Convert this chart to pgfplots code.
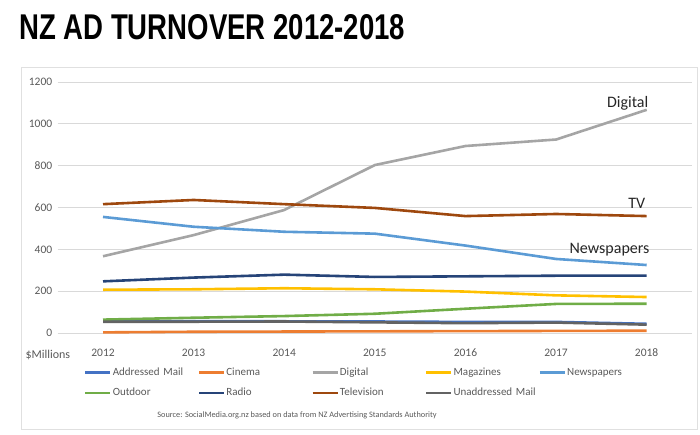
\documentclass[border=0pt]{standalone}
\usepackage{pgfplots}
\pgfplotsset{compat=1.18}
\usepackage{fontspec}
\setmainfont{Carlito}
\newfontfamily\titlefont{Liberation Sans}

\definecolor{cAddr}{HTML}{4472C4}
\definecolor{cCinema}{HTML}{ED7D31}
\definecolor{cDigital}{HTML}{A5A5A5}
\definecolor{cMag}{HTML}{FFC000}
\definecolor{cNews}{HTML}{5B9BD5}
\definecolor{cOutdoor}{HTML}{70AD47}
\definecolor{cRadio}{HTML}{264478}
\definecolor{cTV}{HTML}{9E480E}
\definecolor{cUnaddr}{HTML}{636363}
\definecolor{txt}{HTML}{595959}
\definecolor{gridc}{HTML}{D9D9D9}

\begin{document}
\begin{tikzpicture}
\useasboundingbox (0,0) rectangle (700pt,-434pt);
% chart frame
\draw[draw=black!12, line width=0.8pt] (21pt,-67pt) rectangle (697pt,-429pt);

\node[anchor=base west, inner sep=0pt] at (19pt,-39pt)
  {\resizebox{386pt}{25pt}{\titlefont\bfseries NZ AD TURNOVER 2012-2018}};

\begin{axis}[
  at={(57.7pt,-333pt)}, anchor=south west,
  scale only axis, width=634.3pt, height=251pt,
  xmin=2011.5, xmax=2018.5, ymin=0, ymax=1200,
  xtick={2012,...,2018}, ytick={0,200,...,1200},
  /pgf/number format/1000 sep={},
  /pgf/number format/assume math mode=true,
  axis line style={draw=none},
  major tick length=0pt,
  ymajorgrids, grid style={draw=gridc, line width=0.8pt},
  tick label style={font=\fontsize{11.5}{13}\selectfont, text=txt},
  xticklabel style={yshift=-12pt},
  yticklabel style={xshift=-2pt},
  clip=false,
  every axis plot/.append style={line width=2.6pt, line join=round},
  legend columns=5,
  legend cell align=left,
  legend image code/.code={\draw[#1] (0pt,0pt) -- (25pt,0pt);},
  legend style={
    at={(axis description cs:0.0367,-0.1275)}, anchor=north west,
    draw=none, fill=none,
    font=\fontsize{11}{13}\selectfont, text=txt,
    column sep=0pt, row sep=10pt,
    nodes={inner xsep=1pt, inner ysep=0pt, text height=8pt, text depth=2.5pt},
    /tikz/every even column/.append style={text width=84pt},
  },
]
\addplot[cAddr] coordinates {(2012,57) (2013,56) (2014,56) (2015,55) (2016,53) (2017,53) (2018,44)};
\addlegendentry{Addressed Mail}
\addplot[cCinema] coordinates {(2012,3) (2013,6) (2014,7) (2015,8) (2016,9) (2017,10) (2018,11)};
\addlegendentry{Cinema}
\addplot[cDigital] coordinates {(2012,367) (2013,468) (2014,588) (2015,803) (2016,894) (2017,925) (2018,1067)};
\addlegendentry{Digital}
\addplot[cMag] coordinates {(2012,207) (2013,209) (2014,214) (2015,209) (2016,198) (2017,180) (2018,172)};
\addlegendentry{Magazines}
\addplot[cNews] coordinates {(2012,555) (2013,508) (2014,484) (2015,475) (2016,418) (2017,354) (2018,325)};
\addlegendentry{Newspapers}
\addplot[cOutdoor] coordinates {(2012,64) (2013,73) (2014,81) (2015,92) (2016,116) (2017,139) (2018,140)};
\addlegendentry{Outdoor}
\addplot[cRadio] coordinates {(2012,247) (2013,265) (2014,279) (2015,268) (2016,271) (2017,274) (2018,274)};
\addlegendentry{Radio}
\addplot[cTV] coordinates {(2012,616) (2013,636) (2014,616) (2015,598) (2016,559) (2017,569) (2018,559)};
\addlegendentry{Television}
\addplot[cUnaddr] coordinates {(2012,54) (2013,54) (2014,55) (2015,51) (2016,47) (2017,50) (2018,40)};
\addlegendentry{Unaddressed Mail}

\node[anchor=base, font=\fontsize{16}{18}\selectfont, text=black!85] at (axis cs:2017.79,1080) {Digital};
\node[anchor=base, font=\fontsize{16}{18}\selectfont, text=black!85] at (axis cs:2017.89,593) {TV};
\node[anchor=base, font=\fontsize{16}{18}\selectfont, text=black!85] at (axis cs:2017.59,382) {Newspapers};
\end{axis}

\node[anchor=west, font=\fontsize{12}{14}\selectfont, text=txt] at (22pt,-355pt) {\$Millions};
\node[font=\fontsize{8.3}{10}\selectfont, text=txt] at (297pt,-415pt)
  {Source: SocialMedia.org.nz based on data from NZ Advertising Standards Authority};
\end{tikzpicture}
\end{document}
